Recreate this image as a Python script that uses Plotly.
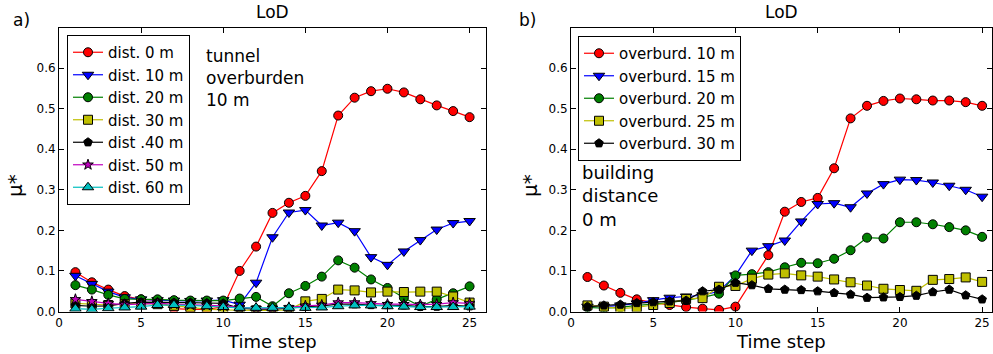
import plotly.graph_objects as go

t = list(range(1, 26))

# Panel a) values
dist_0 = [0.097, 0.072, 0.054, 0.038, 0.030, 0.028, 0.007, 0.005, 0.005, 0.012, 0.100, 0.160, 0.243, 0.268, 0.285,
          0.346, 0.483, 0.527, 0.543, 0.549, 0.540, 0.523, 0.508, 0.494, 0.479]
dist_10 = [0.088, 0.068, 0.049, 0.035, 0.030, 0.028, 0.027, 0.026, 0.027, 0.028, 0.017, 0.071, 0.183, 0.244, 0.250,
           0.212, 0.219, 0.198, 0.134, 0.115, 0.148, 0.176, 0.202, 0.218, 0.223]
dist_20 = [0.065, 0.054, 0.041, 0.031, 0.030, 0.030, 0.028, 0.027, 0.027, 0.027, 0.032, 0.036, 0.013, 0.045, 0.063,
           0.086, 0.126, 0.108, 0.079, 0.058, 0.034, 0.013, 0.030, 0.045, 0.062]
dist_30 = [0.020, 0.018, 0.016, 0.018, 0.020, 0.018, 0.014, 0.010, 0.006, 0.004, 0.003, 0.003, 0.003, 0.004, 0.025,
           0.031, 0.054, 0.052, 0.047, 0.049, 0.048, 0.049, 0.049, 0.037, 0.022]
dist_40 = [0.015, 0.013, 0.014, 0.020, 0.023, 0.023, 0.022, 0.022, 0.021, 0.020, 0.008, 0.006, 0.006, 0.008, 0.012,
           0.014, 0.018, 0.018, 0.016, 0.016, 0.015, 0.012, 0.012, 0.015, 0.013]
dist_50 = [0.030, 0.025, 0.020, 0.017, 0.018, 0.020, 0.018, 0.016, 0.015, 0.014, 0.010, 0.008, 0.008, 0.010, 0.014,
           0.016, 0.022, 0.022, 0.020, 0.018, 0.018, 0.017, 0.018, 0.022, 0.020]
dist_60 = [0.007, 0.005, 0.008, 0.010, 0.012, 0.016, 0.016, 0.015, 0.013, 0.011, 0.009, 0.009, 0.009, 0.009, 0.009,
           0.010, 0.013, 0.015, 0.015, 0.013, 0.012, 0.011, 0.011, 0.011, 0.012]

# Panel b) values
ob_10 = [0.085, 0.064, 0.046, 0.030, 0.022, 0.016, 0.011, 0.007, 0.004, 0.012, 0.075, 0.139, 0.246, 0.270, 0.280,
         0.353, 0.476, 0.507, 0.519, 0.525, 0.523, 0.520, 0.520, 0.516, 0.507]
ob_15 = [0.012, 0.012, 0.015, 0.020, 0.028, 0.034, 0.037, 0.040, 0.050, 0.089, 0.150, 0.161, 0.175, 0.222, 0.265,
         0.267, 0.257, 0.291, 0.314, 0.325, 0.324, 0.318, 0.310, 0.300, 0.283]
ob_20 = [0.010, 0.008, 0.010, 0.015, 0.018, 0.022, 0.028, 0.035, 0.044, 0.089, 0.092, 0.097, 0.109, 0.120, 0.119,
         0.130, 0.151, 0.182, 0.180, 0.220, 0.220, 0.215, 0.208, 0.200, 0.184]
ob_25 = [0.015, 0.012, 0.007, 0.010, 0.016, 0.021, 0.031, 0.033, 0.061, 0.063, 0.081, 0.091, 0.094, 0.089, 0.086,
         0.079, 0.072, 0.064, 0.056, 0.053, 0.051, 0.078, 0.080, 0.084, 0.073]
ob_30 = [0.012, 0.015, 0.017, 0.021, 0.023, 0.025, 0.027, 0.050, 0.054, 0.071, 0.065, 0.056, 0.054, 0.053, 0.050,
         0.046, 0.042, 0.034, 0.035, 0.036, 0.039, 0.048, 0.054, 0.040, 0.030]

left_names = ["dist. 0 m", "dist. 10 m", "dist. 20 m", "dist. 30 m", "dist .40 m", "dist. 50 m", "dist. 60 m"]
right_names = ["overburd. 10 m", "overburd. 15 m", "overburd. 20 m", "overburd. 25 m", "overburd. 30 m"]
x_ticks = [0, 5, 10, 15, 20, 25]
y_ticks = [0.0, 0.1, 0.2, 0.3, 0.4, 0.5, 0.6]
y_ticklabels = ["0.0", "0.1", "0.2", "0.3", "0.4", "0.5", "0.6"]

styles = [
    ("#ff0000", "circle", 9),
    ("#0000ff", "triangle-down", 10),
    ("#008000", "circle", 9),
    ("#bfbf00", "square", 9),
    ("#000000", "pentagon", 9),
    ("#bf00bf", "star", 8),
    ("#00bfbf", "triangle-up", 10),
]

FONT = "DejaVu Sans"
fig = go.Figure()

left_series = [dist_0, dist_10, dist_20, dist_30, dist_40, dist_50, dist_60]
for name, ys, (c, sym, sz) in zip(left_names, left_series, styles):
    fig.add_trace(go.Scatter(
        x=t, y=ys, name=name, mode="lines+markers", xaxis="x", yaxis="y", legend="legend",
        line=dict(color=c, width=1.2),
        marker=dict(color=c, symbol=sym, size=sz, line=dict(color="#000000", width=1)),
    ))

right_series = [ob_10, ob_15, ob_20, ob_25, ob_30]
for name, ys, (c, sym, sz) in zip(right_names, right_series, styles[:5]):
    fig.add_trace(go.Scatter(
        x=t, y=ys, name=name, mode="lines+markers", xaxis="x2", yaxis="y2", legend="legend2",
        line=dict(color=c, width=1.2),
        marker=dict(color=c, symbol=sym, size=sz, line=dict(color="#000000", width=1)),
    ))

W, H = 993, 354
ybot, ytop = 311.5, 27.5

def px(x):
    return x / W

def py(y):
    return 1 - y / H

axis_common = dict(
    showgrid=False, zeroline=False, showline=True, linecolor="black", linewidth=1,
    mirror="ticks", ticks="inside", ticklen=5, tickcolor="black", tickwidth=1,
    tickfont=dict(family=FONT, size=12, color="black"), automargin=False,
)

fig.update_layout(
    width=W, height=H,
    margin=dict(l=0, r=0, t=0, b=0, autoexpand=False),
    paper_bgcolor="white", plot_bgcolor="white",
    font=dict(family=FONT, color="black"),
    xaxis=dict(domain=[px(59), px(486)], range=[0, 26], tickvals=x_ticks, anchor="y", **axis_common),
    yaxis=dict(domain=[py(ybot), py(ytop)], range=[0, 0.7], tickvals=y_ticks, ticktext=y_ticklabels,
               anchor="x", **axis_common),
    xaxis2=dict(domain=[px(571), px(992)], range=[0, 25.6], tickvals=x_ticks, anchor="y2", **axis_common),
    yaxis2=dict(domain=[py(ybot), py(ytop)], range=[0, 0.7], tickvals=y_ticks, ticktext=y_ticklabels,
                anchor="x2", **axis_common),
    legend=dict(x=px(67), y=py(35), xanchor="left", yanchor="top", bgcolor="white",
                bordercolor="black", borderwidth=1, font=dict(family=FONT, size=15, color="black"),
                itemwidth=30, tracegroupgap=0),
    legend2=dict(x=px(578), y=py(36), xanchor="left", yanchor="top", bgcolor="white",
                 bordercolor="black", borderwidth=1, font=dict(family=FONT, size=15, color="black"),
                 itemwidth=30, tracegroupgap=0),
    showlegend=True,
)

ann = []
def add_text(text, x, y, size, xanchor="center", yanchor="middle", angle=0, align="left"):
    ann.append(dict(text=text, x=px(x), y=py(y), xref="paper", yref="paper", showarrow=False,
                    xanchor=xanchor, yanchor=yanchor, textangle=angle, align=align,
                    font=dict(family=FONT, size=size, color="black")))

add_text("a)", 11, 20, 17, xanchor="left")
add_text("b)", 517, 20, 17, xanchor="left")
add_text("LoD", 272, 12, 17)
add_text("LoD", 781, 12, 17)
add_text("Time step", 272, 341, 18)
add_text("Time step", 781, 341, 18)
add_text("μ*", 15, 186, 20, angle=-90)
add_text("μ*", 530, 186, 20, angle=-90)
add_text("tunnel<br>overburden<br>10 m", 204, 44, 17, xanchor="left", yanchor="top")
add_text("building<br>distance<br>0 m", 580, 160, 18, xanchor="left", yanchor="top")
fig.update_layout(annotations=ann)

fig.write_html("out.html", config={"displayModeBar": False},
               post_script="document.body.style.margin='0';document.body.style.overflow='hidden';")
